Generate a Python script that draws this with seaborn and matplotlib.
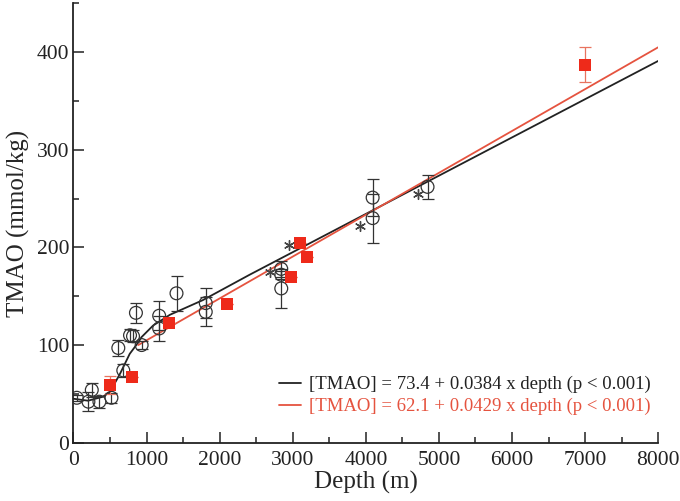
import matplotlib
matplotlib.use("Agg")
import matplotlib.pyplot as plt
from matplotlib.ticker import MultipleLocator
import seaborn as sns
import pandas as pd

# black open circles (mean +/- error)
black_depth = [46, 205, 251, 355, 520, 614, 682, 774, 815, 855, 933, 1173, 1173,
               1410, 1810, 1810, 2843, 2843, 2843, 4093, 4093, 4844]
black_tmao = [46, 42, 54, 42, 46, 97, 74, 110, 109, 133, 100, 130, 117,
              153, 143, 134, 178, 172, 158, 251, 230, 262]
black_err = [3, 10, 7, 6, 5, 8, 7, 6, 6, 10, 4, 15, 13,
             18, 15, 15, 8, 4, 20, 19, 25, 12]

# red filled squares
red_depth = [500, 797, 1310, 2101, 2979, 3102, 3192, 6994]
red_tmao = [59, 67, 123, 142, 170, 205, 190, 387]
red_err = [9, 0, 0, 0, 0, 0, 0, 18]

# asterisks
star_depth = [2683, 2948, 3920, 4707]
star_tmao = [175, 202, 222, 255]

# fitted curves
black_fit_depth = [0, 200, 400, 500, 640, 770, 890, 930, 1090, 1320, 1770, 2410, 8000]
black_fit_tmao = [45, 43, 47, 52, 71, 91, 103, 108, 120, 131, 146, 172, 391]
red_fit_depth = [887, 8000]
red_fit_tmao = [100, 405]

black_label = "[TMAO] = 73.4 + 0.0384 x depth (p < 0.001)"
red_label = "[TMAO] = 62.1 + 0.0429 x depth (p < 0.001)"

sns.set_style("ticks")
plt.rcParams['font.family'] = ['Liberation Serif', 'DejaVu Serif']

fig = plt.figure(figsize=(6.8, 5.01), dpi=100)
ax = fig.add_axes([0.108, 0.1164, 0.86, 0.877])

red = "#ee2a1a"
red_line = "#e5533f"

black_df = pd.DataFrame({"depth": black_depth, "tmao": black_tmao})
red_df = pd.DataFrame({"depth": red_depth, "tmao": red_tmao})

# fit lines
sns.lineplot(x=black_fit_depth, y=black_fit_tmao, ax=ax, color="#222222",
             lw=1.3, label=black_label, sort=False)
sns.lineplot(x=red_fit_depth, y=red_fit_tmao, ax=ax, color=red_line,
             lw=1.3, label=red_label, sort=False)

# error bars
ax.errorbar(black_depth, black_tmao, yerr=black_err, fmt="none",
            ecolor="#333333", elinewidth=0.9, capsize=4.5, capthick=0.9, zorder=2)
ax.errorbar(red_depth, red_tmao, yerr=red_err, fmt="none",
            ecolor="#e8735f", elinewidth=0.9, capsize=4.5, capthick=0.9, zorder=2)

# points
sns.scatterplot(data=black_df, x="depth", y="tmao", ax=ax, marker="o", s=85,
                facecolor="none", edgecolor="#333333", linewidth=0.9, zorder=3)
sns.scatterplot(data=red_df, x="depth", y="tmao", ax=ax, marker="s", s=80,
                color=red, edgecolor=red, linewidth=0, zorder=4)
sns.scatterplot(x=star_depth, y=star_tmao, ax=ax, marker=(6, 2, 0), s=50,
                color="#444444", linewidth=1.0, zorder=4)

ax.set_xlim(0, 8000)
ax.set_ylim(0, 450)
ax.xaxis.set_major_locator(MultipleLocator(1000))
ax.xaxis.set_minor_locator(MultipleLocator(500))
ax.yaxis.set_major_locator(MultipleLocator(100))
ax.yaxis.set_minor_locator(MultipleLocator(50))
ax.tick_params(which="both", direction="in", colors="#222222", labelsize=15.5,
               width=1.1)
ax.tick_params(axis="x", which="major", pad=6)
ax.tick_params(axis="y", which="major", pad=3)
ax.tick_params(which="major", length=8)
ax.tick_params(which="minor", length=4.5)
for s in ["top", "right"]:
    ax.spines[s].set_visible(False)
for s in ["left", "bottom"]:
    ax.spines[s].set_linewidth(1.3)
    ax.spines[s].set_color("#222222")

ax.set_xlabel("Depth (m)", fontsize=18, labelpad=1)
ax.set_ylabel("TMAO (mmol/kg)", fontsize=18, labelpad=5)

leg = ax.legend(loc="lower right", bbox_to_anchor=(1.0, 0.045), frameon=False,
                fontsize=13.5, handlelength=1.2, handletextpad=0.4,
                labelspacing=0.25, labelcolor="linecolor", borderaxespad=0)

fig.savefig("out.png", dpi=100)
